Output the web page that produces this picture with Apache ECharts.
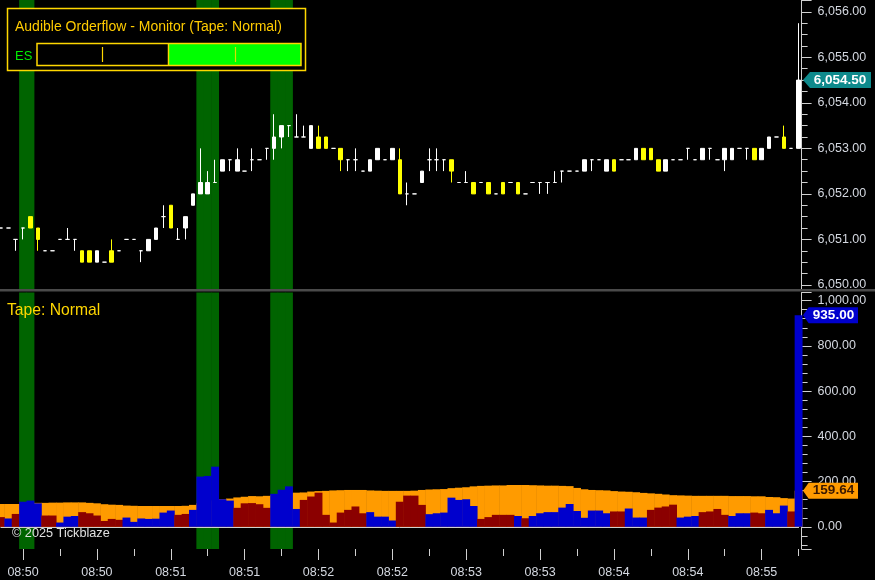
<!DOCTYPE html>
<html><head><meta charset="utf-8">
<script src="https://cdn.jsdelivr.net/npm/echarts@6/dist/echarts.min.js"></script>
<style>html,body{margin:0;padding:0;background:#000;}#c{width:875px;height:580px;}</style>
</head><body><div id="c"></div>
<script>
// ---- data ----
const tickLabels = ['08:50','08:50','08:51','08:51','08:52','08:52','08:53','08:53','08:54','08:54','08:55'];
const openP = [6051.25,6051.25,6051,6051.25,6051.5,6051.25,6050.75,6050.75,6051,6051,
 6051,6050.75,6050.75,6050.5,6050.5,6050.75,6050.75,6051,6051,6050.75,
 6050.75,6051,6051.5,6051.75,6051,6051.25,6051.75,6052,6052,6052.25,
 6052.5,6052.75,6052.5,6052.5,6052.75,6052.75,6053,6053,6053.25,6053.5,
 6053.25,6053.25,6053,6053.25,6053.25,6053,6053,6052.75,6052.75,6052.5,
 6052.5,6052.75,6052.75,6052.75,6052.75,6052,6052,6052.25,6052.75,6052.75,
 6052.75,6052.75,6052.25,6052.25,6052.25,6052.25,6052.25,6052,6052.25,6052.25,
 6052.25,6052,6052.25,6052.25,6052.25,6052.25,6052.5,6052.5,6052.5,6052.5,
 6052.75,6052.75,6052.5,6052.75,6052.75,6052.75,6052.75,6053,6053,6052.75,
 6052.5,6052.75,6052.75,6053,6052.75,6052.75,6053,6052.75,6052.75,6052.75,
 6053,6053,6053,6052.75,6053,6053.25,6053.25,6053,6053];
const closeP = [6051.25,6051.25,6051,6051.25,6051.25,6051,6050.75,6050.75,6051,6051,
 6051,6050.5,6050.5,6050.75,6050.5,6050.5,6050.75,6051,6051,6050.75,
 6051,6051.25,6051.5,6051.25,6051,6051.5,6052,6052.25,6052.25,6052.25,
 6052.75,6052.75,6052.75,6052.5,6052.75,6052.75,6053,6053.25,6053.5,6053.5,
 6053.25,6053.25,6053.5,6053,6053,6053,6052.75,6052.75,6052.75,6052.5,
 6052.75,6053,6052.75,6053,6052,6052,6052,6052.5,6052.75,6052.75,
 6052.75,6052.5,6052.25,6052.25,6052,6052.25,6052,6052,6052,6052.25,
 6052,6052,6052.25,6052.25,6052.25,6052.25,6052.5,6052.5,6052.5,6052.75,
 6052.75,6052.75,6052.75,6052.5,6052.75,6052.75,6053,6052.75,6052.75,6052.5,
 6052.75,6052.75,6052.75,6053,6052.75,6053,6053,6052.75,6053,6053,
 6053,6053,6052.75,6053,6053.25,6053.25,6053,6053,6054.5];
const lowP = [6051.25,6051.25,6050.75,6051,6051.25,6050.75,6050.75,6050.75,6051,6051,
 6050.75,6050.5,6050.5,6050.5,6050.5,6050.5,6050.75,6051,6051,6050.5,
 6050.75,6051,6051.25,6051.25,6051,6051,6051.75,6052,6052,6052.25,
 6052.5,6052.5,6052.5,6052.5,6052.5,6052.75,6052.75,6052.75,6053,6053.25,
 6053.25,6053.25,6053,6053,6053,6053,6052.5,6052.5,6052.5,6052.5,
 6052.5,6052.75,6052.75,6052.75,6052,6051.75,6052,6052.25,6052.5,6052.5,
 6052.5,6052.25,6052.25,6052.25,6052,6052.25,6052,6052,6052,6052.25,
 6052,6052,6052.25,6052,6052,6052.25,6052.25,6052.5,6052.5,6052.5,
 6052.5,6052.75,6052.5,6052.5,6052.75,6052.75,6052.75,6052.75,6052.75,6052.5,
 6052.5,6052.75,6052.75,6052.75,6052.75,6052.75,6052.75,6052.75,6052.5,6052.75,
 6053,6052.75,6052.75,6052.75,6053,6053.25,6053,6053,6053];
const highP = [6051.25,6051.25,6051,6051.25,6051.5,6051.25,6050.75,6050.75,6051,6051.25,
 6051,6050.75,6050.75,6050.75,6050.5,6051,6050.75,6051,6051,6050.75,
 6051,6051.25,6051.75,6051.75,6051.25,6051.5,6052,6053,6052.5,6052.75,
 6052.75,6052.75,6053,6052.5,6053,6052.75,6053,6053.75,6053.5,6053.5,
 6053.75,6053.5,6053.5,6053.5,6053.25,6053,6053,6052.75,6053,6052.5,
 6052.75,6053,6052.75,6053,6053,6052.25,6052,6052.5,6053,6053,
 6052.75,6052.75,6052.25,6052.5,6052.25,6052.25,6052.25,6052,6052.25,6052.25,
 6052.25,6052,6052.25,6052.25,6052.25,6052.5,6052.5,6052.5,6052.5,6052.75,
 6052.75,6052.75,6052.75,6052.75,6052.75,6052.75,6053,6053,6053,6052.75,
 6052.75,6052.75,6052.75,6053,6052.75,6053,6053,6052.75,6053,6053,
 6053,6053,6053,6053,6053.25,6053.25,6053.5,6053,6055.75];
const volume = [43,37,57,111,116,104,50,50,19,45,
 48,65,60,50,26,35,31,41,22,37,
 35,36,63,72,53,57,75,222,225,266,
 122,116,84,104,105,100,84,146,164,179,
 79,119,134,151,53,19,63,75,90,60,
 65,45,45,28,111,138,138,97,56,60,
 63,129,119,122,92,35,43,53,53,53,
 48,38,48,60,65,65,85,101,70,40,
 72,72,60,68,68,81,41,41,75,85,
 90,98,41,45,48,65,68,79,53,48,
 60,60,63,60,75,60,94,68,935];
const volumeSide = ('RBRBBBRRBB' + 'BRRRRRRBBB' + 'BBBBRRBBBB' + 'BBRRRRRBBB' + 'BRRRRRRRRR' +
 'BBBBRRRRBB' + 'BBBBBRRRRR' + 'BRBBBBBBBB' + 'BBBRRBBBRR' + 'RRBBBRRRRB' + 'BBRRBBBRB').split('');
const avgVolume = [101,101,101,101,101,106,106,107,107,108,
 108,108,106,104,100,98,97,94,93,92,
 92,92,92,92,92,93,97,104,110,117,
 122,125,130,133,136,135,137,140,144,148,
 151,152,156,158,159,161,162,163,163,163,
 161,160,159,159,159,159,160,163,165,166,
 167,171,173,175,179,181,182,183,183,185,
 185,185,184,183,182,182,181,180,172,166,
 163,162,161,158,156,155,153,150,148,146,
 143,140,139,138,137,137,137,137,137,136,
 136,136,135,135,132,131,127,125,159.64];
const alertBars = [3,4,27,28,29,37,38,39];

// ---- build ----
const N = openP.length;
const categories = openP.map((_, i) => 'b' + i);
const fmt2 = v => v.toLocaleString('en-US', {minimumFractionDigits: 2, maximumFractionDigits: 2});
const WHITE = '#ffffff', YELLOW = '#ffff00', BLUE = '#0000cd', RED = '#8b0000', ORANGE = '#ff9b00', GREEN = '#006400';
const LABEL = '#d4d8e0', AXIS = '#d0d0d0';
const FONT = '"Liberation Sans", Arial, sans-serif';

const candleData = openP.map((o, i) => {
  const item = { value: [o, closeP[i], lowP[i], highP[i]] };
  if (o === closeP[i]) item.itemStyle = { color: WHITE, color0: WHITE, borderColor: WHITE, borderColor0: WHITE, borderColorDoji: WHITE };
  return item;
});
const bandData = alertBars.map(i => [i, 1]);
const avgData = avgVolume.map((v, i) => [i, v]);
const volData = volume.map((v, i) => ({ value: [i, v], itemStyle: { color: volumeSide[i] === 'B' ? BLUE : RED } }));
const last = N - 1;
const tagPath = 'path://M0,8L7,0L68,0L68,16L7,16Z';

// full-width step bar drawn through the axis scales
function stepBar(params, api) {
  const x = api.value(0), v = api.value(1);
  const top = api.coord([x, v]);
  const base = api.coord([x, 0]);
  const w = api.size([1, 0])[0];
  return { type: 'rect', shape: { x: top[0] - w / 2 - 0.25, y: top[1], width: w + 0.5, height: base[1] - top[1] },
    style: { fill: api.visual('color') } };
}

const gridW = 797.7;
const hiddenCat = (gi) => ({ type: 'category', gridIndex: gi, data: categories, boundaryGap: false, position: 'bottom',
  axisLine: { show: false }, axisLabel: { show: false }, splitLine: { show: false } });
const tagSeries = (value, color, textColor, w) => ({
  type: 'scatter', xAxisIndex: 1, yAxisIndex: 2, data: [[last, value]], z: 10, silent: true,
  symbol: tagPath, symbolSize: [w, 16], symbolOffset: [4.4 + w / 2, 0], itemStyle: { color: color, opacity: 1 },
  label: { show: true, position: 'inside', formatter: fmt2(value), color: textColor, fontWeight: 'bold', fontSize: 13.5, fontFamily: FONT, offset: [3, 0] }
});
const option = {
  backgroundColor: '#000',
  animation: false,
  grid: [
    { left: 0.9, top: 0, width: gridW, height: 289, outerBoundsMode: 'none', containLabel: false },
    { left: 0.9, top: 292.5, width: gridW, height: 256.5, outerBoundsMode: 'none', containLabel: false }
  ],
  xAxis: [
    { type: 'category', gridIndex: 0, data: categories, boundaryGap: false, show: false },
    { type: 'category', gridIndex: 1, data: categories, boundaryGap: false, position: 'bottom',
      axisLine: { show: true, lineStyle: { color: AXIS, width: 1 } },
      axisTick: { show: false },
      axisLabel: { show: true, interval: (i) => i % 10 === 3, margin: 17, color: LABEL, fontSize: 12.5, fontFamily: FONT,
        formatter: (v, i) => tickLabels[(i - 3) / 10] || '' },
      splitLine: { show: false } },
    Object.assign(hiddenCat(1), { axisTick: { show: true, interval: (i) => i % 10 === 8, length: 7, lineStyle: { color: AXIS } } }),
    Object.assign(hiddenCat(1), { axisTick: { show: true, interval: (i) => i % 10 === 3, length: 11, lineStyle: { color: AXIS } } })
  ],
  yAxis: [
    { type: 'value', gridIndex: 0, position: 'right', offset: 3, min: 6049.91, max: 6056.26, minInterval: 1, maxInterval: 1,
      axisLine: { show: true, lineStyle: { color: AXIS, width: 1 } },
      axisTick: { show: true, length: 10, lineStyle: { color: AXIS } },
      minorTick: { show: true, splitNumber: 4, length: 6, lineStyle: { color: AXIS } },
      axisLabel: { color: LABEL, fontSize: 12.5, fontFamily: FONT, margin: 16, formatter: fmt2, showMinLabel: false, showMaxLabel: false },
      splitLine: { show: false } },
    { type: 'value', gridIndex: 0, min: 0, max: 1, show: false, splitLine: { show: false } },
    { type: 'value', gridIndex: 1, position: 'right', offset: 3, min: -98, max: 1036, minInterval: 200, maxInterval: 200,
      axisLine: { show: true, lineStyle: { color: AXIS, width: 1 } },
      axisTick: { show: true, length: 10, lineStyle: { color: AXIS } },
      minorTick: { show: true, splitNumber: 5, length: 6, lineStyle: { color: AXIS } },
      axisLabel: { color: LABEL, fontSize: 12.5, fontFamily: FONT, margin: 16, formatter: fmt2, showMinLabel: false, showMaxLabel: false },
      splitLine: { show: false } },
    { type: 'value', gridIndex: 1, min: 0, max: 1, show: false, splitLine: { show: false } }
  ],
  series: [
    { type: 'custom', xAxisIndex: 0, yAxisIndex: 1, data: bandData, renderItem: stepBar, encode: { x: 0, y: 1 },
      itemStyle: { color: GREEN }, z: 0, silent: true, clip: false },
    { type: 'candlestick', xAxisIndex: 0, yAxisIndex: 0, data: candleData, barWidth: 4, z: 3,
      itemStyle: { color: WHITE, color0: YELLOW, borderColor: WHITE, borderColor0: YELLOW, borderColorDoji: WHITE, borderWidth: 1 },
      markPoint: { symbol: tagPath, symbolSize: [68, 16], symbolOffset: [38.4, 0], silent: true,
        itemStyle: { color: '#0e8a8c' },
        label: { show: true, formatter: fmt2(closeP[last]), color: '#fff', fontWeight: 'bold', fontSize: 13.5, fontFamily: FONT, offset: [3, 0] },
        data: [{ coord: [last, closeP[last]] }] } },
    { type: 'custom', xAxisIndex: 1, yAxisIndex: 3, data: bandData, renderItem: stepBar, encode: { x: 0, y: 1 },
      itemStyle: { color: GREEN }, z: 0, silent: true, clip: false },
    { type: 'custom', xAxisIndex: 1, yAxisIndex: 2, data: avgData, renderItem: stepBar, encode: { x: 0, y: 1 },
      itemStyle: { color: ORANGE }, z: 2, silent: true, clip: false },
    { type: 'custom', xAxisIndex: 1, yAxisIndex: 2, data: volData, renderItem: stepBar, encode: { x: 0, y: 1 },
      z: 3, silent: true, clip: false },
    tagSeries(avgVolume[last], ORANGE, '#3a1800', 55),
    tagSeries(volume[last], BLUE, '#ffffff', 55)
  ],
  graphic: [
    { type: 'rect', shape: { x: 0, y: 289, width: 875, height: 2.5 }, style: { fill: '#4a4a4a' }, z: 50, silent: true },
    { type: 'rect', shape: { x: 7.5, y: 8.5, width: 298, height: 62 }, style: { fill: '#000', stroke: '#ffd700', lineWidth: 1.5 }, z: 100, silent: true },
    { type: 'text', x: 15, y: 27.5, style: { text: 'Audible Orderflow - Monitor (Tape: Normal)', fill: '#ffcc00', font: '14px ' + FONT, verticalAlign: 'middle' }, z: 101, silent: true },
    { type: 'text', x: 15, y: 56, style: { text: 'ES', fill: '#00ee00', font: '13px ' + FONT, verticalAlign: 'middle' }, z: 101, silent: true },
    { type: 'rect', shape: { x: 168.5, y: 43.5, width: 132.5, height: 22 }, style: { fill: '#00ff00' }, z: 101, silent: true },
    { type: 'rect', shape: { x: 37, y: 43.5, width: 264, height: 22 }, style: { fill: 'none', stroke: '#ffd700', lineWidth: 1.5 }, z: 102, silent: true },
    { type: 'line', shape: { x1: 168.5, y1: 43.5, x2: 168.5, y2: 65.5 }, style: { stroke: '#ffd700', lineWidth: 1.5 }, z: 102, silent: true },
    { type: 'line', shape: { x1: 102.5, y1: 47, x2: 102.5, y2: 62 }, style: { stroke: '#ffd700', lineWidth: 1.2 }, z: 102, silent: true },
    { type: 'line', shape: { x1: 235.5, y1: 47, x2: 235.5, y2: 62 }, style: { stroke: '#d8e000', lineWidth: 1.2 }, z: 102, silent: true },
    { type: 'text', x: 7, y: 311, style: { text: 'Tape: Normal', fill: '#ffd700', font: '15.7px ' + FONT, verticalAlign: 'middle' }, z: 101, silent: true },
    { type: 'text', x: 12, y: 533.5, style: { text: '\u00a9 2025 Tickblaze', fill: '#e0e0e0', font: '12.7px ' + FONT, verticalAlign: 'middle' }, z: 101, silent: true }
  ]
};
const chart = echarts.init(document.getElementById('c'), null, { renderer: 'canvas' });
chart.setOption(option);
</script>
</body></html>
